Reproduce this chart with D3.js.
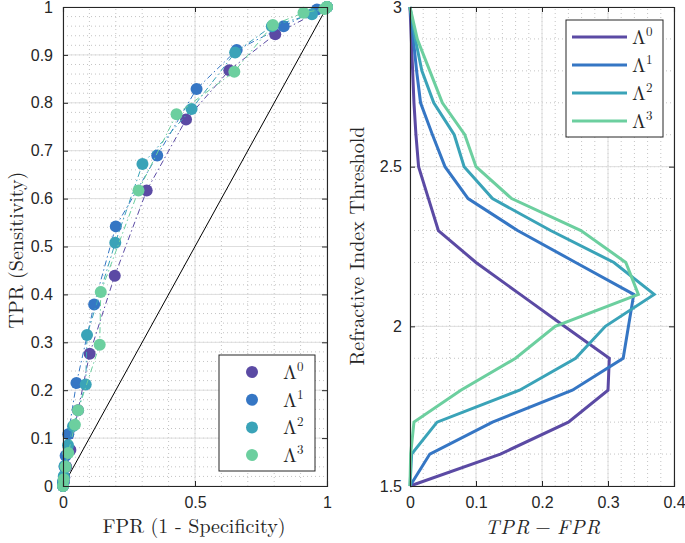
<!DOCTYPE html>
<html>
<head>
<meta charset="utf-8">
<script src="https://cdn.jsdelivr.net/npm/d3@7"></script>
<style>
  body { margin: 0; background: #fff; }
</style>
</head>
<body>
<script>
// thresholds shared by both panels
const thresholds = [1.5, 1.6, 1.7, 1.8, 1.9, 2.0, 2.1, 2.2, 2.3, 2.4, 2.5, 2.6, 2.7, 2.8, 2.9, 3.0];
const seriesSup = ["0", "1", "2", "3"];
const colors = ["#5b4aa4", "#3576c4", "#3aa3b8", "#6ccf9f"];

// left panel: ROC points (FPR, TPR) per threshold
const fpr0 = [1, 0.804, 0.63, 0.466, 0.317, 0.196, 0.101, 0.057, 0.028, 0.012, 0.005, 0.003, 0.002, 0.001, 0, 0];
const tpr0 = [1, 0.943, 0.868, 0.765, 0.617, 0.439, 0.276, 0.158, 0.075, 0.040, 0.018, 0.012, 0.008, 0.005, 0.002, 0];
const fpr1 = [1, 0.962, 0.836, 0.658, 0.506, 0.357, 0.200, 0.118, 0.051, 0.020, 0.010, 0.006, 0.003, 0.002, 0.001, 0];
const tpr1 = [1, 0.995, 0.960, 0.910, 0.829, 0.690, 0.542, 0.379, 0.215, 0.108, 0.063, 0.040, 0.019, 0.012, 0.006, 0];
const fpr2 = [1, 0.995, 0.943, 0.791, 0.652, 0.487, 0.301, 0.198, 0.091, 0.086, 0.038, 0.019, 0.006, 0.003, 0.001, 0];
const tpr2 = [1, 0.9975, 0.985, 0.960, 0.905, 0.787, 0.672, 0.508, 0.315, 0.212, 0.125, 0.085, 0.042, 0.021, 0.009, 0];
const fpr3 = [1, 0.999, 0.99, 0.911, 0.795, 0.649, 0.430, 0.286, 0.143, 0.139, 0.057, 0.045, 0.020, 0.010, 0.003, 0];
const tpr3 = [1, 1, 0.996, 0.988, 0.9625, 0.865, 0.776, 0.617, 0.405, 0.295, 0.158, 0.128, 0.069, 0.040, 0.014, 0];

// right panel: TPR - FPR per threshold
const diff0 = [0, 0.137, 0.240, 0.300, 0.302, 0.234, 0.167, 0.100, 0.043, 0.028, 0.013, 0.009, 0.006, 0.004, 0.002, 0];
const diff1 = [0, 0.030, 0.125, 0.246, 0.323, 0.331, 0.339, 0.251, 0.163, 0.088, 0.053, 0.034, 0.016, 0.010, 0.005, 0];
const diff2 = [0, 0.0025, 0.041, 0.166, 0.251, 0.296, 0.370, 0.309, 0.213, 0.125, 0.082, 0.067, 0.036, 0.018, 0.008, 0];
const diff3 = [0, 0.001, 0.006, 0.077, 0.160, 0.220, 0.346, 0.327, 0.259, 0.154, 0.100, 0.083, 0.049, 0.030, 0.011, 0];

// chance diagonal
const diagX = [0, 1];
const diagY = [0, 1];

// tick labels
const leftXTicks = [0, 0.5, 1];
const leftYTicks = [0, 0.1, 0.2, 0.3, 0.4, 0.5, 0.6, 0.7, 0.8, 0.9, 1];
const rightXTicks = [0, 0.1, 0.2, 0.3, 0.4];
const rightYTicks = [1.5, 2, 2.5, 3];

const fprs = [fpr0, fpr1, fpr2, fpr3];
const tprs = [tpr0, tpr1, tpr2, tpr3];
const diffs = [diff0, diff1, diff2, diff3];

const axisColor = "#262626";
const sansFont = "'Liberation Sans', Arial, Helvetica, sans-serif";
const serifFont = "'Latin Modern Roman', 'CMU Serif', 'Liberation Serif', 'Times New Roman', serif";

var svg = d3.select("body")
    .append("svg")
    .attr("width", 685)
    .attr("height", 543);

// scales
const xL = d3.scaleLinear().domain([0, 1]).range([63, 327]);
const yL = d3.scaleLinear().domain([0, 1]).range([486, 7]);
const xR = d3.scaleLinear().domain([0, 0.4]).range([410, 674]);
const yR = d3.scaleLinear().domain([1.5, 3]).range([486, 7]);

// grid: dotted minor + solid major lines
function drawGrid(x, y, xMinor, yMinor, xMajor, yMajor) {
  const g = svg.append("g");
  const [x0, x1] = x.range();
  const [y0, y1] = y.range();
  g.selectAll(".mx").data(xMinor).enter().append("line")
    .attr("x1", d => x(d)).attr("x2", d => x(d))
    .attr("y1", y0).attr("y2", y1)
    .attr("stroke", "#c4c4c4").attr("stroke-width", 1).attr("stroke-dasharray", "1,3");
  g.selectAll(".my").data(yMinor).enter().append("line")
    .attr("x1", x0).attr("x2", x1)
    .attr("y1", d => y(d)).attr("y2", d => y(d))
    .attr("stroke", "#c4c4c4").attr("stroke-width", 1).attr("stroke-dasharray", "1,3");
  g.selectAll(".gx").data(xMajor).enter().append("line")
    .attr("x1", d => x(d)).attr("x2", d => x(d))
    .attr("y1", y0).attr("y2", y1)
    .attr("stroke", "#dedede").attr("stroke-width", 1);
  g.selectAll(".gy").data(yMajor).enter().append("line")
    .attr("x1", x0).attr("x2", x1)
    .attr("y1", d => y(d)).attr("y2", d => y(d))
    .attr("stroke", "#dedede").attr("stroke-width", 1);
}

drawGrid(xL, yL, d3.range(0.1, 1, 0.1), d3.range(0.02, 1, 0.02), leftXTicks, leftYTicks);
drawGrid(xR, yR, d3.range(0.02, 0.4, 0.02), d3.range(1.6, 3, 0.1), rightXTicks, rightYTicks);

// axes with inward ticks on all four sides (box)
function drawAxes(x, y, xTicks, yTicks, yPad) {
  const [x0, x1] = x.range();
  const [y0, y1] = y.range();
  const fmt = d => String(d);
  const bottom = svg.append("g").attr("transform", "translate(0," + y0 + ")")
    .call(d3.axisBottom(x).tickValues(xTicks).tickSize(-5).tickPadding(11).tickFormat(fmt));
  const top = svg.append("g").attr("transform", "translate(0," + y1 + ")")
    .call(d3.axisTop(x).tickValues(xTicks).tickSize(-5).tickFormat(""));
  const left = svg.append("g").attr("transform", "translate(" + x0 + ",0)")
    .call(d3.axisLeft(y).tickValues(yTicks).tickSize(-5).tickPadding(yPad).tickFormat(fmt));
  const right = svg.append("g").attr("transform", "translate(" + x1 + ",0)")
    .call(d3.axisRight(y).tickValues(yTicks).tickSize(-5).tickFormat(""));
  [bottom, top, left, right].forEach(a => {
    a.select(".domain").attr("stroke", axisColor).attr("stroke-width", 1.1);
    a.selectAll(".tick line").attr("stroke", axisColor).attr("stroke-width", 1);
    a.selectAll("text").attr("fill", axisColor)
      .style("font-family", sansFont).style("font-size", "16px");
  });
}

// left panel marks
svg.append("line")
    .attr("x1", xL(diagX[0])).attr("y1", yL(diagY[0]))
    .attr("x2", xL(diagX[1])).attr("y2", yL(diagY[1]))
    .attr("stroke", "#000").attr("stroke-width", 1);

const rocLine = d3.line()
    .x(function(d) { return xL(d[0]); })
    .y(function(d) { return yL(d[1]); });

fprs.forEach(function(f, i) {
  const pts = f.map((v, k) => [v, tprs[i][k]]);
  svg.append("path")
      .datum(pts)
      .attr("fill", "none")
      .attr("stroke", colors[i])
      .attr("stroke-width", 1)
      .attr("stroke-dasharray", "6,3,1.5,3")
      .attr("d", rocLine);
  svg.append("g").selectAll("circle").data(pts).enter().append("circle")
      .attr("cx", d => xL(d[0]))
      .attr("cy", d => yL(d[1]))
      .attr("r", 6)
      .attr("fill", colors[i]);
});

drawAxes(xL, yL, leftXTicks, leftYTicks, 10);

// right panel lines
const diffLine = d3.line()
    .x(function(d) { return xR(d[0]); })
    .y(function(d) { return yR(d[1]); });

diffs.forEach(function(dv, i) {
  svg.append("path")
      .datum(dv.map((v, k) => [v, thresholds[k]]))
      .attr("fill", "none")
      .attr("stroke", colors[i])
      .attr("stroke-width", 3)
      .attr("stroke-linejoin", "miter")
      .attr("d", diffLine);
});

drawAxes(xR, yR, rightXTicks, rightYTicks, 8);

// legends
function lambdaLabel(g, x, y, sup) {
  const t = g.append("text")
      .attr("x", x).attr("y", y)
      .attr("fill", axisColor)
      .style("font-family", serifFont)
      .style("font-size", "20px")
      .text("\u039B");
  t.append("tspan")
      .attr("dy", -8)
      .style("font-size", "13px")
      .text(sup);
}

const legL = svg.append("g");
legL.append("rect")
    .attr("x", 219).attr("y", 355).attr("width", 96).attr("height", 116)
    .attr("fill", "#fff").attr("stroke", axisColor).attr("stroke-width", 1);
seriesSup.forEach(function(s, i) {
  const cy = 372 + i * 27.7;
  legL.append("circle").attr("cx", 252).attr("cy", cy).attr("r", 6).attr("fill", colors[i]);
  lambdaLabel(legL, 283, cy + 7, s);
});

const legR = svg.append("g");
legR.append("rect")
    .attr("x", 566).attr("y", 20).attr("width", 97).attr("height", 117)
    .attr("fill", "#fff").attr("stroke", axisColor).attr("stroke-width", 1);
seriesSup.forEach(function(s, i) {
  const cy = 37 + i * 28;
  legR.append("line")
      .attr("x1", 572).attr("x2", 627).attr("y1", cy).attr("y2", cy)
      .attr("stroke", colors[i]).attr("stroke-width", 3);
  lambdaLabel(legR, 632, cy + 7, s);
});

// axis titles
const titleSize = "20px";
svg.append("text")
    .attr("transform", "translate(23,250) rotate(-90)")
    .attr("text-anchor", "middle")
    .attr("fill", axisColor)
    .style("font-family", serifFont).style("font-size", titleSize)
    .text("TPR (Sensitivity)");
svg.append("text")
    .attr("x", 194).attr("y", 533)
    .attr("text-anchor", "middle")
    .attr("fill", axisColor)
    .style("font-family", serifFont).style("font-size", titleSize)
    .text("FPR (1 - Specificity)");
svg.append("text")
    .attr("transform", "translate(364,246) rotate(-90)")
    .attr("text-anchor", "middle")
    .attr("fill", axisColor)
    .style("font-family", serifFont).style("font-size", titleSize)
    .text("Refractive Index Threshold");
const mathLabel = svg.append("text")
    .attr("x", 543).attr("y", 534)
    .attr("text-anchor", "middle")
    .attr("fill", axisColor)
    .style("font-family", serifFont).style("font-size", titleSize)
    .style("font-style", "italic")
    .style("letter-spacing", "1px");
mathLabel.append("tspan").text("TPR");
mathLabel.append("tspan").attr("dx", 5).style("font-style", "normal").text("\u2212");
mathLabel.append("tspan").attr("dx", 5).text("FPR");
</script>
</body>
</html>
